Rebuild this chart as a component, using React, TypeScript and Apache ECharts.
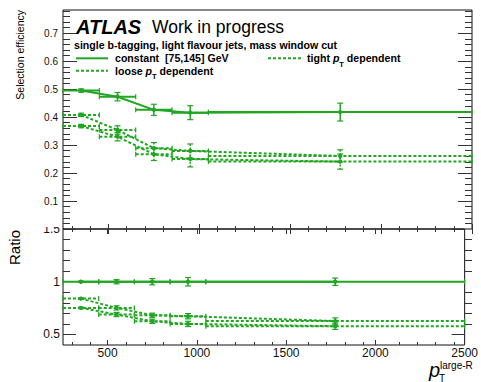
import React, { useEffect, useRef } from "react";
import * as echarts from "echarts";

// ---- data ----
const binCenters = [350, 550, 750, 950, 1775];
const binLow = [250, 450, 650, 850, 1050];
const binHigh = [450, 650, 850, 1050, 2500];

const constantEff = [0.495, 0.473, 0.426, 0.416, 0.418];
const constantErr = [0.006, 0.015, 0.02, 0.025, 0.032];
const looseEff = [0.408, 0.354, 0.289, 0.279, 0.261];
const looseErr = [0.006, 0.015, 0.02, 0.025, 0.022];
const tightEff = [0.368, 0.33, 0.267, 0.25, 0.241];
const tightErr = [0.006, 0.015, 0.022, 0.028, 0.027];

const constantRatio = [1, 1, 1, 1, 1];
const constantRatioErr = [0.006, 0.02, 0.03, 0.04, 0.035];
const looseRatio = [0.84, 0.752, 0.682, 0.673, 0.627];
const looseRatioErr = [0.006, 0.02, 0.02, 0.025, 0.03];
const tightRatio = [0.752, 0.689, 0.625, 0.6, 0.578];
const tightRatioErr = [0.006, 0.02, 0.02, 0.025, 0.03];

const xMajorTicks = [500, 1000, 1500, 2000, 2500];
const xTickLabels = [500, 1000, 1500, 2000, 2500];
const effMajorTicks = [0.1, 0.2, 0.3, 0.4, 0.5, 0.6, 0.7];
const effTickLabels = [0.1, 0.2, 0.3, 0.4, 0.5, 0.6, 0.7];
const ratioMajorTicks = [0.5, 1, 1.5];
const ratioTickLabels = [0.5, 1, 1.5];

const GREEN = "#21a621";
const FONT = '"Liberation Sans", Arial, Helvetica, sans-serif';

// minor tick positions (axis decoration)
const xMinorTicks: number[] = [];
for (let v = 300; v < 2500; v += 100) if (v % 500 !== 0) xMinorTicks.push(v);
const effMinorTicks: number[] = [];
for (let i = 1; i < 40; i++) if (i % 5 !== 0) effMinorTicks.push(+(i * 0.02).toFixed(2));
const ratioMinorTicks: number[] = [];
for (let i = 5; i < 15; i++) if (i % 5 !== 0) ratioMinorTicks.push(+(i * 0.1).toFixed(1));

const LEFT = 63;
const WIDTH = 409;
const TOP1 = 10;
const H1 = 219;
const TOP2 = 229;
const H2 = 116;

const plainFmt = (v: number) => String(v);

function xAxis(grid: number, position: string, ticks: number[], len: number, labels?: number[]) {
  return {
    type: "value",
    gridIndex: grid,
    position,
    min: 250,
    max: 2500,
    axisLine: { show: false },
    splitLine: { show: false },
    axisTick: { show: true, inside: true, length: len, customValues: ticks, lineStyle: { color: "#333", width: 1 } },
    axisLabel: labels
      ? { show: true, customValues: labels, formatter: plainFmt, fontSize: 12, color: "#111", margin: 2, fontFamily: FONT }
      : { show: false },
  };
}

function yAxis(grid: number, position: string, min: number, max: number, ticks: number[], len: number, labels?: number[], fs = 10, margin = 5) {
  return {
    type: "value",
    gridIndex: grid,
    position,
    min,
    max,
    axisLine: { show: false },
    splitLine: { show: false },
    axisTick: { show: true, inside: true, length: len, customValues: ticks, lineStyle: { color: "#333", width: 1 } },
    axisLabel: labels
      ? { show: true, customValues: labels, formatter: plainFmt, fontSize: fs, color: "#111", margin, fontFamily: FONT }
      : { show: false },
  };
}

const errRender = (dashed: boolean) => (params: any, api: any) => {
  const x = api.value(0);
  const y = api.value(1);
  const lo = api.value(2);
  const hi = api.value(3);
  const e = api.value(4);
  const c = api.coord([x, y]);
  const l = api.coord([lo, y]);
  const h = api.coord([hi, y]);
  const t = api.coord([x, y + e]);
  const b = api.coord([x, y - e]);
  const ls: any = { stroke: GREEN, lineWidth: 2, fill: null };
  if (dashed) ls.lineDash = [3, 2];
  const vs: any = { stroke: GREEN, lineWidth: 1.5, fill: null };
  if (dashed) vs.lineDash = [2, 1.5];
  const cap = { stroke: GREEN, lineWidth: 1.2, fill: null };
  return {
    type: "group",
    children: [
      { type: "line", shape: { x1: l[0], y1: l[1], x2: h[0], y2: h[1] }, style: ls },
      { type: "line", shape: { x1: l[0], y1: l[1] - 2.5, x2: l[0], y2: l[1] + 2.5 }, style: cap },
      { type: "line", shape: { x1: h[0], y1: h[1] - 2.5, x2: h[0], y2: h[1] + 2.5 }, style: cap },
      { type: "line", shape: { x1: t[0], y1: t[1], x2: b[0], y2: b[1] }, style: vs },
      { type: "line", shape: { x1: t[0] - 3, y1: t[1], x2: t[0] + 3, y2: t[1] }, style: cap },
      { type: "line", shape: { x1: b[0] - 3, y1: b[1], x2: b[0] + 3, y2: b[1] }, style: cap },
      { type: "circle", shape: { cx: c[0], cy: c[1], r: 2.2 }, style: { fill: GREEN } },
    ],
  };
};

function seriesPair(name: string, vals: number[], errs: number[], dashed: boolean, xi: number, yi: number) {
  return [
    {
      name,
      type: "line",
      xAxisIndex: xi,
      yAxisIndex: yi,
      data: binCenters.map((x, i) => [x, vals[i]]),
      symbol: "none",
      silent: true,
      lineStyle: { color: GREEN, width: 2, type: dashed ? [3, 2] : "solid" },
      z: 3,
    },
    {
      name: name + "-err",
      type: "custom",
      xAxisIndex: xi,
      yAxisIndex: yi,
      data: binCenters.map((x, i) => [x, vals[i], binLow[i], binHigh[i], errs[i]]),
      renderItem: errRender(dashed),
      silent: true,
      z: 4,
    },
  ];
}

function richLabel(main: string) {
  return {
    text: `{a|${main} }{p|p}{t|T}{a| dependent}`,
    verticalAlign: "middle",
    textVerticalAlign: "middle",
    rich: {
      a: { fontSize: 10.6, fontWeight: "bold", fontFamily: FONT, lineHeight: 20, fill: "#000" },
      p: { fontSize: 10.6, fontWeight: "bold", fontStyle: "italic", fontFamily: FONT, lineHeight: 20, fill: "#000" },
      t: { fontSize: 7.5, fontWeight: "bold", fontFamily: FONT, lineHeight: 6, verticalAlign: "bottom", fill: "#000" },
    },
  };
}

export default function App() {
  const ref = useRef<HTMLDivElement>(null);
  useEffect(() => {
    if (!ref.current) return;
    const chart = echarts.init(ref.current, undefined, { renderer: "svg" });
    const grids = [
      { left: LEFT, top: TOP1, width: WIDTH, height: H1, show: true, borderColor: "#111", borderWidth: 1, backgroundColor: "transparent" },
      { left: LEFT, top: TOP1, width: WIDTH, height: H1, show: false },
      { left: LEFT, top: TOP2, width: WIDTH, height: H2, show: true, borderColor: "#111", borderWidth: 1, backgroundColor: "transparent" },
      { left: LEFT, top: TOP2, width: WIDTH, height: H2, show: false },
    ];
    const option: any = {
      animation: false,
      textStyle: { fontFamily: FONT },
      grid: grids,
      xAxis: [
        xAxis(0, "bottom", xMajorTicks, 5),
        xAxis(0, "top", xMajorTicks, 5),
        xAxis(1, "bottom", xMinorTicks, 3),
        xAxis(1, "top", xMinorTicks, 3),
        xAxis(2, "bottom", xMajorTicks, 5, xTickLabels),
        xAxis(2, "top", xMajorTicks, 5),
        xAxis(3, "bottom", xMinorTicks, 3),
        xAxis(3, "top", xMinorTicks, 3),
      ],
      yAxis: [
        yAxis(0, "left", 0, 0.783, effMajorTicks, 14, effTickLabels, 10, 5),
        yAxis(0, "right", 0, 0.783, effMajorTicks, 14),
        yAxis(1, "left", 0, 0.783, effMinorTicks, 7),
        yAxis(1, "right", 0, 0.783, effMinorTicks, 7),
        yAxis(2, "left", 0.4, 1.5, ratioMajorTicks, 13, ratioTickLabels, 12, 3),
        yAxis(2, "right", 0.4, 1.5, ratioMajorTicks, 13),
        yAxis(3, "left", 0.4, 1.5, ratioMinorTicks, 7),
        yAxis(3, "right", 0.4, 1.5, ratioMinorTicks, 7),
      ],
      series: [
        ...seriesPair("tight", tightEff, tightErr, true, 0, 0),
        ...seriesPair("loose", looseEff, looseErr, true, 0, 0),
        ...seriesPair("constant", constantEff, constantErr, false, 0, 0),
        ...seriesPair("tightR", tightRatio, tightRatioErr, true, 4, 4),
        ...seriesPair("looseR", looseRatio, looseRatioErr, true, 4, 4),
        ...seriesPair("constantR", constantRatio, constantRatioErr, false, 4, 4),
      ],
      graphic: [
        { type: "rect", z: 100, shape: { x: 28, y: 214, width: 33, height: 13 }, style: { fill: "#fff" } },
        {
          type: "text", x: 76, y: 27, z: 100,
          style: { text: "ATLAS", fontSize: 20, fontWeight: "bold", fontStyle: "italic", fontFamily: FONT, fill: "#000", verticalAlign: "middle", textVerticalAlign: "middle" },
        },
        {
          type: "text", x: 152, y: 27, z: 100,
          style: { text: "Work in progress", fontSize: 17.5, fontFamily: FONT, fill: "#000", verticalAlign: "middle", textVerticalAlign: "middle" },
        },
        {
          type: "text", x: 74, y: 44.5, z: 100,
          style: { text: "single b-tagging, light flavour jets, mass window cut", fontSize: 10.6, fontWeight: "bold", fontFamily: FONT, fill: "#000", verticalAlign: "middle", textVerticalAlign: "middle" },
        },
        { type: "line", z: 100, shape: { x1: 76, y1: 58.3, x2: 108, y2: 58.3 }, style: { stroke: GREEN, lineWidth: 2 } },
        {
          type: "text", x: 115, y: 58.3, z: 100,
          style: { text: "constant  [75,145] GeV", fontSize: 10.6, fontWeight: "bold", fontFamily: FONT, fill: "#000", verticalAlign: "middle", textVerticalAlign: "middle" },
        },
        { type: "line", z: 100, shape: { x1: 76, y1: 70.7, x2: 108, y2: 70.7 }, style: { stroke: GREEN, lineWidth: 2, lineDash: [3, 2] } },
        { type: "text", x: 115, y: 70.7, z: 100, style: richLabel("loose") },
        { type: "line", z: 100, shape: { x1: 268, y1: 58.3, x2: 301, y2: 58.3 }, style: { stroke: GREEN, lineWidth: 2, lineDash: [3, 2] } },
        { type: "text", x: 307, y: 58.3, z: 100, style: richLabel("tight") },
        {
          type: "text", x: 20, y: 10, rotation: Math.PI / 2, z: 100,
          style: { text: "Selection efficiency", fontSize: 10.5, fontFamily: FONT, fill: "#000", align: "right", textAlign: "right", verticalAlign: "middle", textVerticalAlign: "middle" },
        },
        {
          type: "text", x: 14, y: 230, rotation: Math.PI / 2, z: 100,
          style: { text: "Ratio", fontSize: 15, fontFamily: FONT, fill: "#000", align: "right", textAlign: "right", verticalAlign: "middle", textVerticalAlign: "middle" },
        },
        {
          type: "text", x: 429, y: 370, z: 100,
          style: { text: "p", fontSize: 20, fontStyle: "italic", fontFamily: FONT, fill: "#000", verticalAlign: "middle", textVerticalAlign: "middle" },
        },
        {
          type: "text", x: 439, y: 378, z: 100,
          style: { text: "T", fontSize: 10, fontFamily: FONT, fill: "#000", verticalAlign: "middle", textVerticalAlign: "middle" },
        },
        {
          type: "text", x: 440, y: 365.5, z: 100,
          style: { text: "large-R", fontSize: 10, fontFamily: FONT, fill: "#000", verticalAlign: "middle", textVerticalAlign: "middle" },
        },
      ],
    };
    chart.setOption(option);
    return () => chart.dispose();
  }, []);
  return <div ref={ref} style={{ position: "absolute", left: 0, top: 0, width: 481, height: 382 }} />;
}
